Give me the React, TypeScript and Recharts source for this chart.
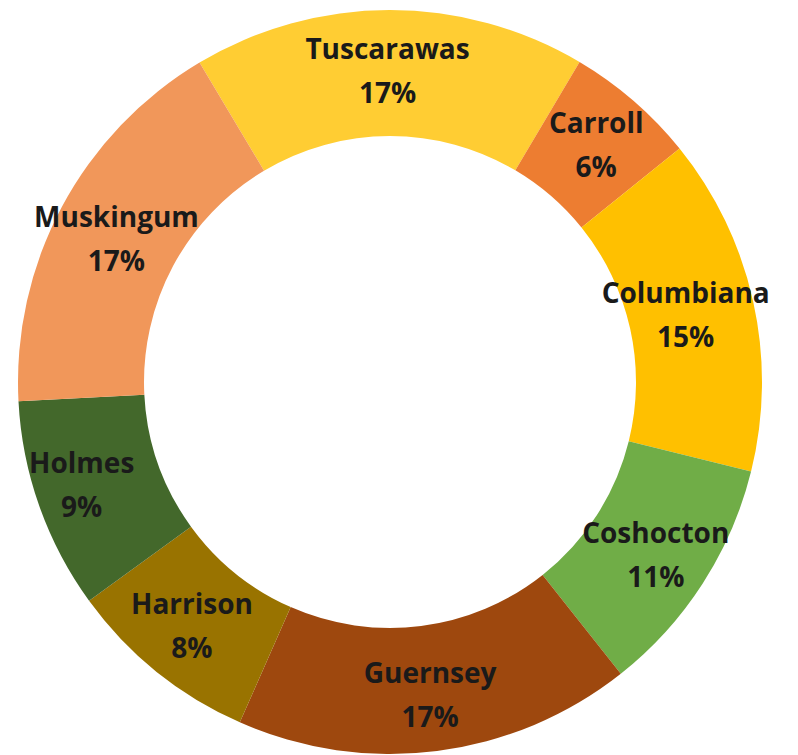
import { PieChart, Pie, Cell } from 'recharts'

const counties = ['Tuscarawas', 'Carroll', 'Columbiana', 'Coshocton', 'Guernsey', 'Harrison', 'Holmes', 'Muskingum']
// slice sizes (the printed labels are rounded)
const values = [17.1, 5.7, 14.7, 10.5, 17.3, 8.4, 9.2, 17.3]
const shares = ['17%', '6%', '15%', '11%', '17%', '8%', '9%', '17%']
const colors = ['#FFCD33', '#ED7D31', '#FFC000', '#70AD47', '#9E480E', '#997300', '#43682B', '#F1975A']

// small nudges so labels sit where the original put them
const labelNudge: [number, number][] = [
  [-2, -2], [4, -3], [-6, 0], [6, 6], [1, 6], [-4, 4], [-17, 0], [-1, 3],
]

const data = counties.map((name, i) => ({ name, value: values[i] }))

const RAD = Math.PI / 180

function renderLabel(props: any) {
  const { cx, cy, midAngle, innerRadius, outerRadius, index } = props
  const r = (innerRadius + outerRadius) / 2
  const [dx, dy] = labelNudge[index]
  const x = cx + r * Math.cos(-midAngle * RAD) + dx
  const y = cy + r * Math.sin(-midAngle * RAD) + dy
  return (
    <text x={x} y={y} textAnchor="middle" fill="#1a1a1a" fontSize={28} fontWeight="bold"
      fontFamily="'Open Sans', Lato, sans-serif">
      <tspan x={x} dy={-12}>{counties[index]}</tspan>
      <tspan x={x} dy={44}>{shares[index]}</tspan>
    </text>
  )
}

export default function App() {
  return (
    <div style={{ position: 'absolute', left: 0, top: 0, width: 798, height: 755, background: '#fff' }}>
      <PieChart width={798} height={755} margin={{ top: 0, right: 0, bottom: 0, left: 0 }}>
        <Pie data={data} dataKey="value" nameKey="name" cx={390} cy={382}
          innerRadius={246} outerRadius={372} startAngle={120.8} endAngle={-239.2}
          stroke="none" label={renderLabel} labelLine={false} isAnimationActive={false}>
          {data.map((d, i) => <Cell key={d.name} fill={colors[i]} />)}
        </Pie>
      </PieChart>
    </div>
  )
}
